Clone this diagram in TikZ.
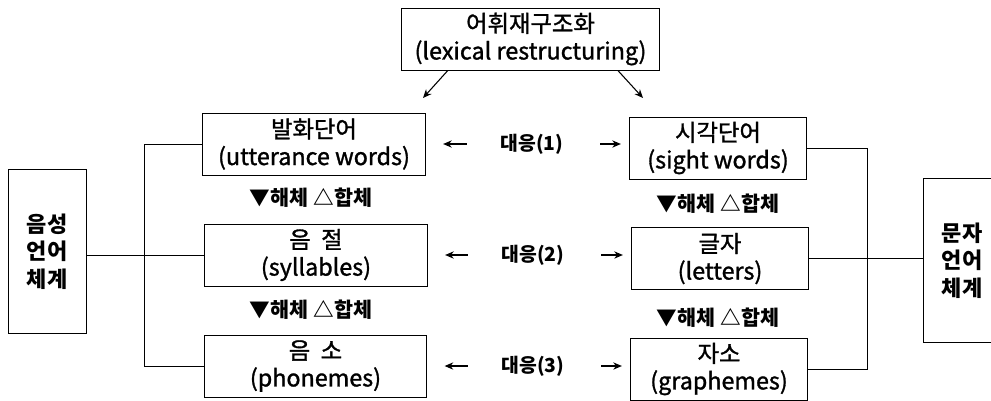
\documentclass[tikz,border=0pt]{standalone}
\usepackage{fontspec}
\setmainfont{Noto Sans CJK KR}
\newfontfamily\boxfont{Noto Sans CJK KR}[FakeBold=1.3]
\usetikzlibrary{arrows.meta}

\begin{document}
\begin{tikzpicture}[x=0.75pt,y=-0.75pt,
    box/.style={draw,line width=0.7pt,align=center,inner sep=0pt,minimum height=46.5pt,
      font=\boxfont\fontsize{17.5pt}{20.5pt}\selectfont},
    lbox/.style={box,minimum width=167pt},
    rbox/.style={box,minimum width=133pt},
    sidebox/.style={draw,line width=0.7pt,align=center,inner sep=0pt,minimum width=58.5pt,
      minimum height=123pt,font=\bfseries\fontsize{16.5pt}{20.5pt}\selectfont},
    lab/.style={font=\bfseries\fontsize{14.5pt}{17pt}\selectfont},
    dlab/.style={font=\bfseries\fontsize{15.5pt}{17pt}\selectfont},
    wire/.style={line width=0.7pt},
    arr/.style={line width=0.8pt,-{Stealth[length=6.5pt,width=5.5pt]}}]
    \useasboundingbox (0,0) rectangle (991,400);
    % 上
    \node[box,minimum width=194pt] (lex) at (530.5,39) {어휘재구조화\\(lexical restructuring)};
    % 左の列
    \node[lbox] (uw) at (314,144) {발화단어\\(utterance words)};
    \node[lbox] (syl) at (316,255) {음\ \ 절\\(syllables)};
    \node[lbox] (pho) at (315.5,366) {음\ \ 소\\(phonemes)};
    \node[dlab] (ld1) at (311,198) {▼해체 △합체};
    \node[dlab] (ld2) at (311,310) {▼해체 △합체};
    % 右の列
    \node[rbox] (sw) at (718,148) {시각단어\\(sight words)};
    \node[rbox] (let) at (720,258.5) {글자\\(letters)};
    \node[rbox] (gra) at (719,369) {자소\\(graphemes)};
    \node[dlab] (rd1) at (718,204) {▼해체 △합체};
    \node[dlab] (rd2) at (718,318) {▼해체 △합체};
    % 両端
    \node[sidebox] (spk) at (47,251.5) {음성\\언어\\체계};
    \node[sidebox] (wrt) at (962,260.5) {문자\\언어\\체계};
    % 대응
    \node[lab] (c1) at (532,144) {대응(1)};
    \node[lab] (c2) at (533,255) {대응(2)};
    \node[lab] (c3) at (533,366) {대응(3)};
    \foreach \c/\l/\r in {c1/uw/sw,c2/syl/let,c3/pho/gra}{
      \draw[arr,shorten <=22pt,shorten >=13pt] (\c.west) -- (\c.west -| \l.east);
      \draw[arr,shorten <=24pt,shorten >=6pt] (\c.east) -- (\c.east -| \r.west);
    }
    % 上からの矢印
    \coordinate (la) at (423,98);
    \coordinate (ra) at (643,98);
    \draw[arr] ([xshift=-62pt]lex.south) -- (la);
    \draw[arr] ([xshift=65.5pt]lex.south) -- (ra);
    % 線
    \coordinate (lbus) at (144,0);
    \coordinate (rbus) at (867,0);
    \draw[wire] (uw.west) -| (lbus |- pho.west) -- (pho.west);
    \draw[wire] (spk.east |- syl.west) -- (syl.west);
    \draw[wire] (sw.east) -| (rbus |- gra.east) -- (gra.east);
    \draw[wire] (let.east) -- (wrt.west |- let.east);
\end{tikzpicture}
\end{document}
